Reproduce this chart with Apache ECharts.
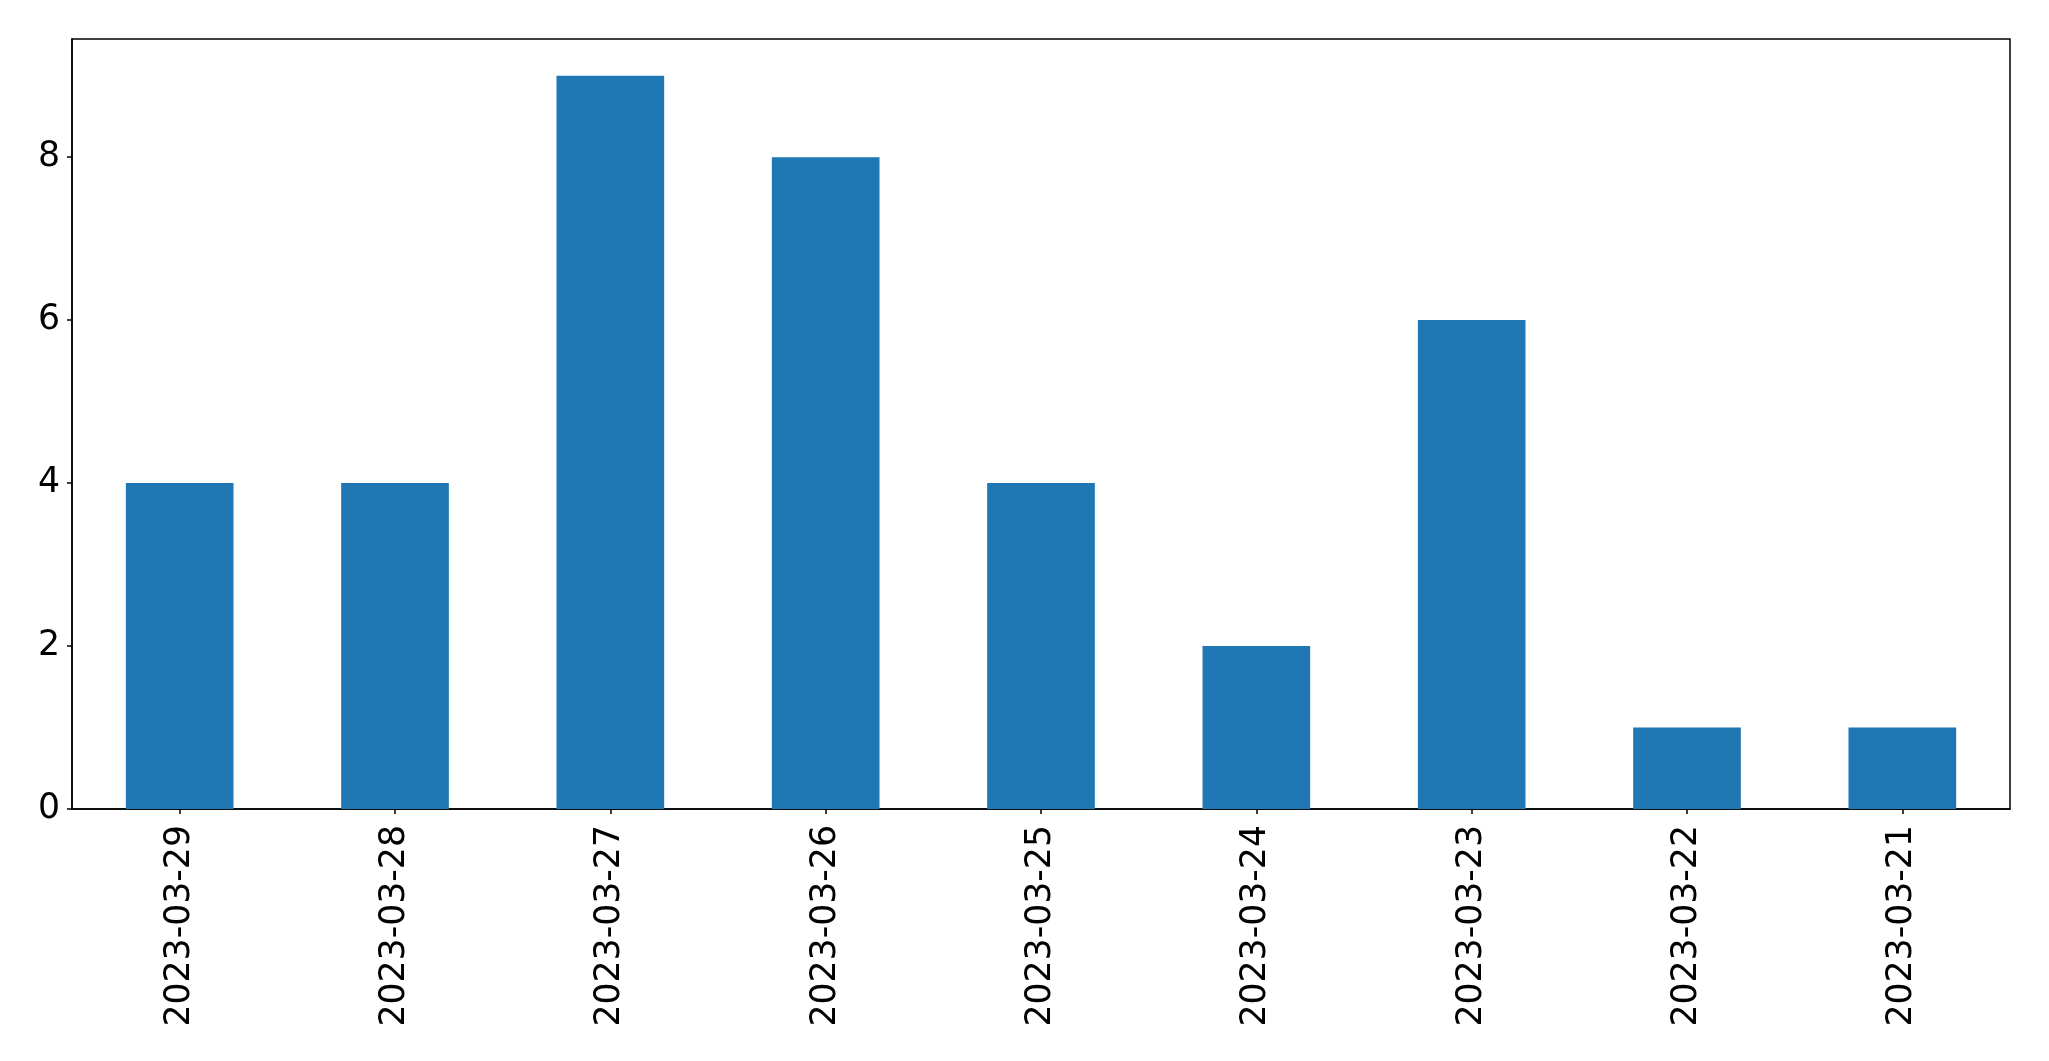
<!DOCTYPE html>
<html>
<head>
<meta charset="utf-8">
<script src="https://cdn.jsdelivr.net/npm/echarts@6/dist/echarts.min.js"></script>
<style>
html,body{margin:0;padding:0;background:#fff;}
#main{width:2049px;height:1061px;}
</style>
</head>
<body>
<div id="main"></div>
<script>
const categories = ['2023-03-29','2023-03-28','2023-03-27','2023-03-26','2023-03-25','2023-03-24','2023-03-23','2023-03-22','2023-03-21'];
const values = [4,4,9,8,4,2,6,1,1];
const yTicks = [0,2,4,6,8];

const chart = echarts.init(document.getElementById('main'), null, {renderer:'canvas'});
chart.setOption({
  animation: false,
  backgroundColor: '#ffffff',
  grid: {left: 72, right: 39, top: 39, bottom: 252, show: true, borderColor: '#000', borderWidth: 1.5, backgroundColor: 'transparent'},
  xAxis: {
    type: 'category',
    data: categories,
    boundaryGap: true,
    axisLine: {show: true, lineStyle: {color: '#000', width: 1.5}},
    axisTick: {show: true, alignWithLabel: true, length: 5, lineStyle: {color: '#000', width: 1.5}},
    axisLabel: {rotate: 90, margin: 16, color: '#000', fontSize: 34.7, fontFamily: 'DejaVu Sans', interval: 0},
    splitLine: {show: false}
  },
  yAxis: {
    type: 'value',
    min: 0,
    max: 9.45,
    interval: 2,
    axisLine: {show: true, lineStyle: {color: '#000', width: 1.5}},
    axisTick: {show: true, length: 5, customValues: yTicks, lineStyle: {color: '#000', width: 1.5}},
    axisLabel: {
      margin: 12, color: '#000', fontSize: 34.7, fontFamily: 'DejaVu Sans',
      customValues: yTicks,
      formatter: function (v) { return yTicks.indexOf(v) >= 0 ? String(v) : ''; }
    },
    splitLine: {show: false}
  },
  series: [{
    type: 'bar',
    data: values,
    barWidth: '50%',
    itemStyle: {color: '#1f77b4'}
  }]
});
</script>
</body>
</html>
